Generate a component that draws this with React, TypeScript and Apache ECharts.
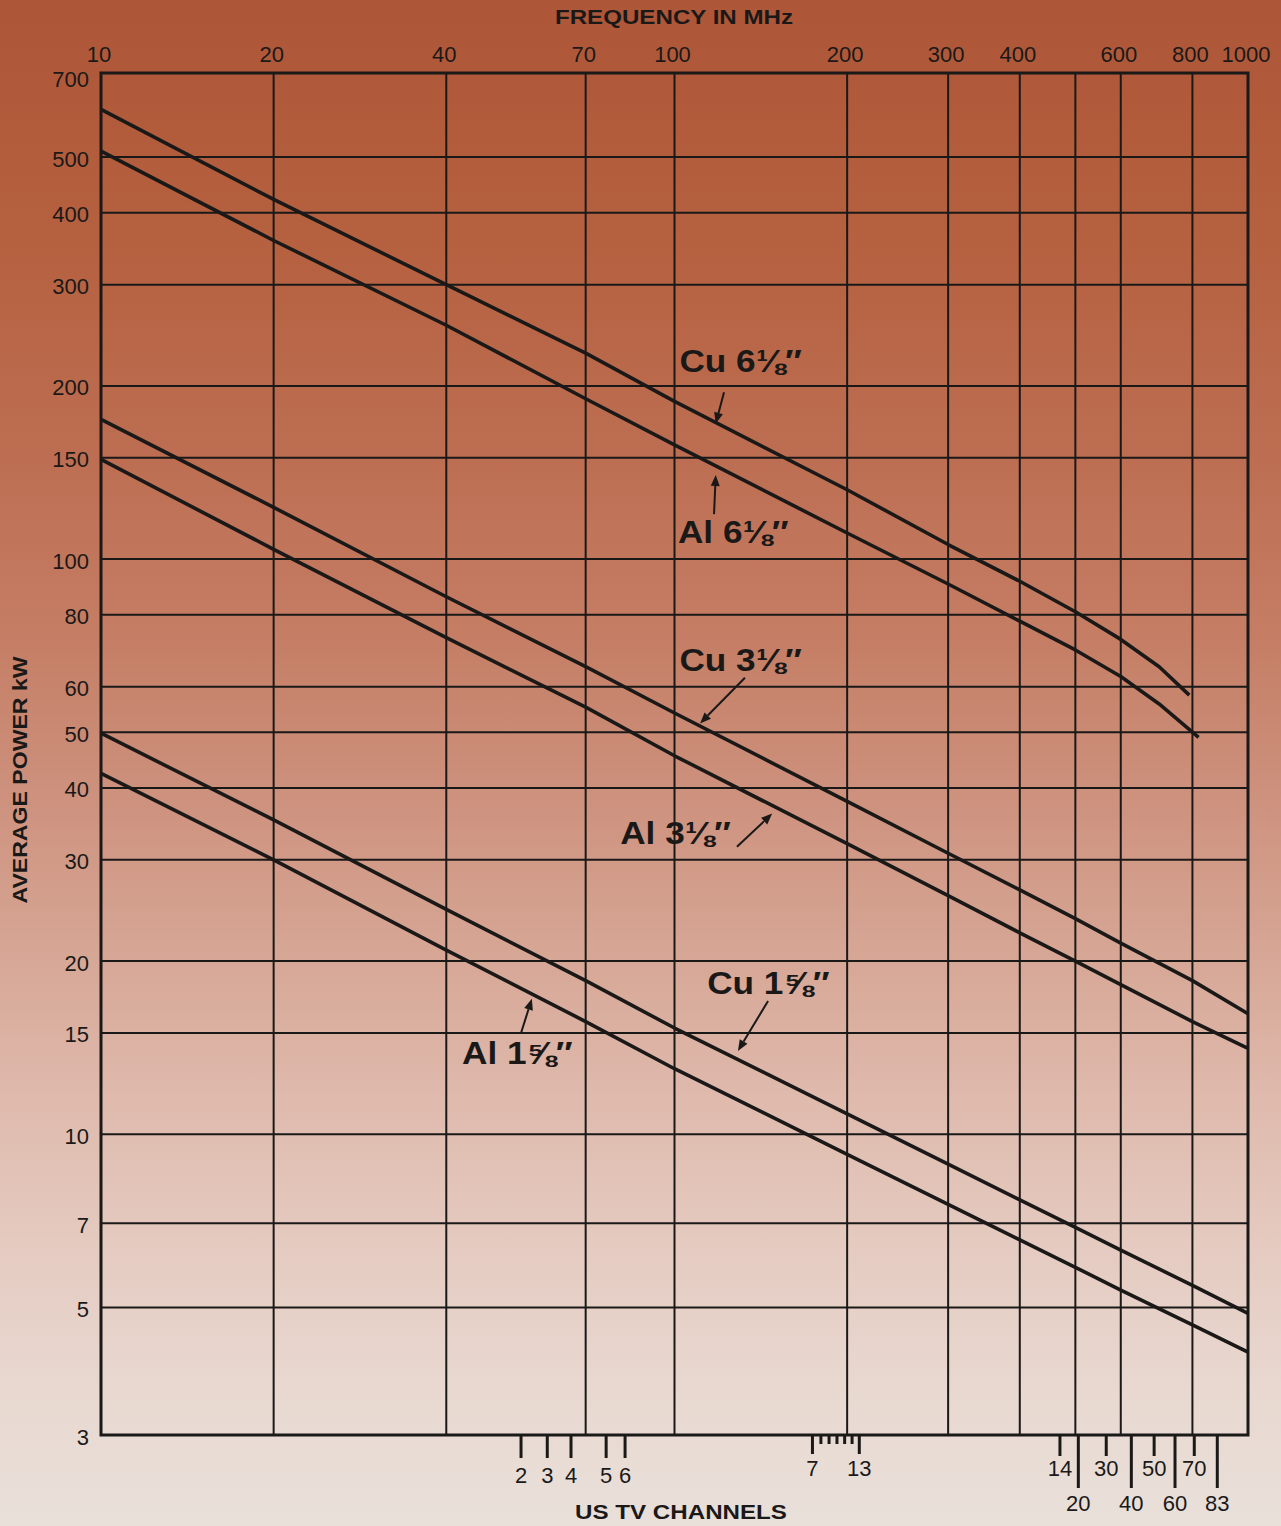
import React, { useEffect, useRef } from "react";
import * as echarts from "echarts";

// ---------- DATA ----------
const frequencyGridMHz = [10, 20, 40, 70, 100, 200, 300, 400, 500, 600, 800, 1000];
const frequencyTickLabels = ["10", "20", "40", "70", "100", "200", "300", "400", "", "600", "800", "1000"];
const powerGridKW = [700, 500, 400, 300, 200, 150, 100, 80, 60, 50, 40, 30, 20, 15, 10, 7, 5, 3];
const powerTickLabels = ["700", "500", "400", "300", "200", "150", "100", "80", "60", "50", "40", "30", "20", "15", "10", "7", "5", "3"];

const cu618 = [[10, 605], [20, 422], [40, 300], [70, 228], [100, 188], [200, 132], [300, 106], [400, 91.5], [500, 81], [600, 72.5], [700, 65], [790, 58]];
const al618 = [[10, 512], [20, 358], [40, 255], [70, 190], [100, 158], [200, 111], [300, 90.5], [400, 78], [500, 69.5], [600, 62.5], [700, 56], [820, 49]];
const cu318 = [[10, 175], [20, 123], [40, 86], [70, 65], [100, 54], [200, 37.9], [300, 30.8], [400, 26.6], [500, 23.7], [600, 21.5], [800, 18.5], [1000, 16.2]];
const al318 = [[10, 149], [20, 104], [40, 73], [70, 55.3], [100, 45.5], [200, 32], [300, 26], [400, 22.4], [500, 20], [600, 18.2], [800, 15.7], [1000, 14.1]];
const cu158 = [[10, 49.8], [20, 35.2], [40, 24.6], [70, 18.5], [100, 15.3], [200, 10.85], [300, 8.87], [400, 7.69], [500, 6.89], [600, 6.29], [800, 5.46], [1000, 4.88]];
const al158 = [[10, 42.4], [20, 30], [40, 20.9], [70, 15.7], [100, 13], [200, 9.23], [300, 7.55], [400, 6.55], [500, 5.87], [600, 5.36], [800, 4.66], [1000, 4.18]];

const lineNames = ["Cu 6⅛″", "Al 6⅛″", "Cu 3⅛″", "Al 3⅛″", "Cu 1⅝″", "Al 1⅝″"];

// US TV channels (lower band-edge frequency, MHz)
const channelNames = ["2", "3", "4", "5", "6", "7", "8", "9", "10", "11", "12", "13", "14", "20", "30", "40", "50", "60", "70", "83"];
const channelFreqMHz = [54, 60, 66, 76, 82, 174, 180, 186, 192, 198, 204, 210, 470, 506, 566, 626, 686, 746, 806, 884];
const channelKind = ["vlo", "vlo", "vlo", "vlo", "vlo", "vhiMajor", "vhiMinor", "vhiMinor", "vhiMinor", "vhiMinor", "vhiMinor", "vhiMajor", "uhfShort", "uhfLong", "uhfShort", "uhfLong", "uhfShort", "uhfLong", "uhfShort", "uhfLong"];

// Annotation placement (in data coordinates: [MHz, kW])
const annotations = [
  { label: [102, 221], from: [122, 195], to: [118, 172] },
  { label: [101.4, 111.4], from: [117.2, 119.7], to: [118, 140] },
  { label: [102, 66.8], from: [132.7, 62.2], to: [110.8, 51.8] },
  { label: [80.4, 33.4], from: [128.5, 31.6], to: [148, 36.1] },
  { label: [114, 18.3], from: [145.6, 17.05], to: [129, 13.96] },
  { label: [42.6, 13.85], from: [54, 15], to: [56.4, 17.2] },
];

// ---------- STYLE ----------
const INK = "#1b1918";
const FONT = '"Liberation Sans", Arial, Helvetica, sans-serif';
const tickStyle: Record<string, { len: number; labelDy: number | null }> = {
  vlo: { len: 23, labelDy: 40 },
  vhiMajor: { len: 19, labelDy: 33 },
  vhiMinor: { len: 9, labelDy: null },
  uhfShort: { len: 21, labelDy: 33 },
  uhfLong: { len: 53, labelDy: 68 },
};

const F_MIN = 10, F_MAX = 1000, P_MIN = 3, P_MAX = 700;

function buildOption() {
  const gridX = {
    type: "custom",
    silent: true,
    z: 1,
    data: frequencyGridMHz.map((f) => [f, P_MIN]),
    renderItem: (params: any, api: any) => {
      const f = api.value(0);
      const i = params.dataIndex;
      const t = api.coord([f, P_MAX]);
      const b = api.coord([f, P_MIN]);
      return {
        type: "group",
        children: [
          { type: "line", shape: { x1: t[0], y1: t[1], x2: b[0], y2: b[1] }, style: { stroke: INK, lineWidth: 2 } },
          {
            type: "text",
            x: t[0] - 2,
            y: t[1] - 19,
            style: { text: frequencyTickLabels[i], fill: INK, font: `22px ${FONT}`, align: "center", verticalAlign: "middle" },
          },
        ],
      };
    },
  };

  const gridY = {
    type: "custom",
    silent: true,
    z: 1,
    data: powerGridKW.map((p) => [F_MIN, p]),
    renderItem: (params: any, api: any) => {
      const p = api.value(1);
      const i = params.dataIndex;
      const l = api.coord([F_MIN, p]);
      const r = api.coord([F_MAX, p]);
      const dy = i === 0 ? 6 : 2;
      return {
        type: "group",
        children: [
          { type: "line", shape: { x1: l[0], y1: l[1], x2: r[0], y2: r[1] }, style: { stroke: INK, lineWidth: 2 } },
          {
            type: "text",
            x: l[0] - 12,
            y: l[1] + dy,
            style: { text: powerTickLabels[i], fill: INK, font: `22px ${FONT}`, align: "right", verticalAlign: "middle" },
          },
        ],
      };
    },
  };

  const channels = {
    type: "custom",
    silent: true,
    z: 2,
    data: channelFreqMHz.map((f) => [f, P_MIN]),
    renderItem: (params: any, api: any) => {
      const f = api.value(0);
      const i = params.dataIndex;
      const st = tickStyle[channelKind[i]];
      const p = api.coord([f, P_MIN]);
      const children: any[] = [
        { type: "line", shape: { x1: p[0], y1: p[1], x2: p[0], y2: p[1] + st.len }, style: { stroke: INK, lineWidth: 3 } },
      ];
      if (st.labelDy !== null) {
        children.push({
          type: "text",
          x: p[0],
          y: p[1] + st.labelDy,
          style: { text: channelNames[i], fill: INK, font: `22px ${FONT}`, align: "center", verticalAlign: "middle" },
        });
      }
      return { type: "group", children };
    },
  };

  const notes = {
    type: "custom",
    silent: true,
    z: 5,
    data: annotations.map((a) => a.label),
    renderItem: (params: any, api: any) => {
      const i = params.dataIndex;
      const a = annotations[i];
      const lp = api.coord(a.label);
      const t = api.coord(a.from);
      const h = api.coord(a.to);
      const dx = h[0] - t[0], dy = h[1] - t[1];
      const len = Math.sqrt(dx * dx + dy * dy) || 1;
      const ux = dx / len, uy = dy / len;
      const hl = 11, hw = 4.5;
      const bx = h[0] - ux * hl, by = h[1] - uy * hl;
      const nx = -uy, ny = ux;
      return {
        type: "group",
        children: [
          {
            type: "text",
            x: lp[0],
            y: lp[1],
            scaleX: 1.1,
            style: { text: lineNames[i], fill: INK, font: `bold 32px ${FONT}`, align: "left", verticalAlign: "middle" },
          },
          { type: "line", shape: { x1: t[0], y1: t[1], x2: bx, y2: by }, style: { stroke: INK, lineWidth: 2 } },
          {
            type: "polygon",
            shape: { points: [[h[0], h[1]], [bx + nx * hw, by + ny * hw], [bx - nx * hw, by - ny * hw]] },
            style: { fill: INK },
          },
        ],
      };
    },
  };

  const curves = [cu618, al618, cu318, al318, cu158, al158].map((d, k) => ({
    type: "line",
    name: lineNames[k],
    data: d,
    showSymbol: false,
    symbol: "none",
    smooth: false,
    z: 3,
    silent: true,
    lineStyle: { color: INK, width: 3.6, join: "round" },
  }));

  const titleFont = `bold 21px ${FONT}`;

  return {
    animation: false,
    backgroundColor: "transparent",
    grid: { left: 101, right: 33, top: 73, bottom: 91, show: true, borderColor: INK, borderWidth: 3, backgroundColor: "transparent" },
    xAxis: { type: "log", logBase: 10, min: F_MIN, max: F_MAX, show: false },
    yAxis: { type: "log", logBase: 10, min: P_MIN, max: P_MAX, show: false },
    series: [gridX, gridY, channels, ...curves, notes],
    graphic: [
      { type: "text", x: 674, y: 17, scaleX: 1.15, style: { text: "FREQUENCY IN MHz", font: titleFont, fill: INK, align: "center", verticalAlign: "middle" } },
      { type: "text", x: 20, y: 780, rotation: Math.PI / 2, scaleX: 1.1, style: { text: "AVERAGE POWER kW", font: titleFont, fill: INK, align: "center", verticalAlign: "middle" } },
      { type: "text", x: 681, y: 1512, scaleX: 1.15, style: { text: "US TV CHANNELS", font: titleFont, fill: INK, align: "center", verticalAlign: "middle" } },
    ],
  };
}

export default function App() {
  const ref = useRef<HTMLDivElement>(null);
  useEffect(() => {
    if (!ref.current) return;
    const chart = echarts.init(ref.current, undefined, { renderer: "svg" });
    chart.setOption(buildOption() as any);
    return () => chart.dispose();
  }, []);
  return (
    <div
      ref={ref}
      style={{
        position: "absolute",
        left: 0,
        top: 0,
        width: 1281,
        height: 1526,
        background:
          "linear-gradient(to bottom, #ad5638 0%, #b5603f 15%, #bd6e52 30%, #c57e65 42%, #cd917d 52%, #d6a594 62%, #dfbaad 72%, #e5cbc1 82%, #e8d8d0 91%, #e9e0da 100%)",
      }}
    />
  );
}
